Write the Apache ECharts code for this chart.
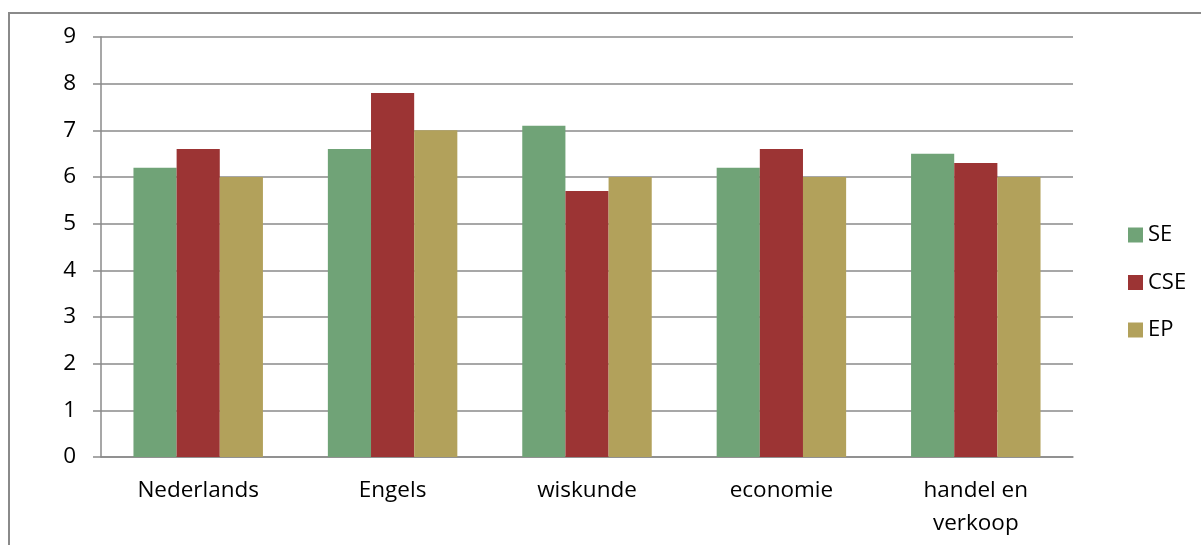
<!DOCTYPE html>
<html>
<head>
<meta charset="utf-8">
<script src="https://cdn.jsdelivr.net/npm/echarts@6/dist/echarts.min.js"></script>
<style>html,body{margin:0;padding:0;background:#fff}#c{width:1201px;height:545px}</style>
</head>
<body>
<div id="c"></div>
<script>
const categories = ['Nederlands', 'Engels', 'wiskunde', 'economie', 'handel en\nverkoop'];
const seValues = [6.2, 6.6, 7.1, 6.2, 6.5];
const cseValues = [6.6, 7.8, 5.7, 6.6, 6.3];
const epValues = [6.0, 7.0, 6.0, 6.0, 6.0];
const seriesNames = ['SE', 'CSE', 'EP'];

const chart = echarts.init(document.getElementById('c'), null, {renderer: 'canvas'});
const font = '"Open Sans", sans-serif';
const gray = '#8a8a8a';
chart.setOption({
  animation: false,
  color: ['#70A377', '#9C3434', '#B2A15B'],
  graphic: [{
    type: 'rect', shape: {x: 9, y: 13, width: 1200, height: 540},
    style: {fill: 'none', stroke: gray, lineWidth: 2}, silent: true
  }],
  grid: {left: 101, right: 128, top: 37, bottom: 88},
  legend: {
    orient: 'vertical', left: 1123, top: 219,
    itemWidth: 15, itemHeight: 15, itemGap: 25.5,
    icon: 'rect',
    textStyle: {fontFamily: font, fontSize: 22, color: '#000', lineHeight: 20, padding: [0, 0, 0, 0]},
    data: seriesNames
  },
  xAxis: {
    type: 'category', data: categories,
    axisLine: {lineStyle: {color: gray, width: 1.5}},
    axisTick: {length: 8, lineStyle: {color: gray, width: 1.5}},
    axisLabel: {fontFamily: font, fontSize: 22.5, color: '#000', margin: 17, lineHeight: 33, interval: 0}
  },
  yAxis: {
    type: 'value', min: 0, max: 9, interval: 1,
    axisLine: {show: true, lineStyle: {color: gray, width: 1.5}},
    axisTick: {show: true, length: 8, lineStyle: {color: gray, width: 1.5}},
    splitLine: {lineStyle: {color: gray, width: 1.5}},
    axisLabel: {fontFamily: font, fontSize: 22.5, color: '#000', margin: 25}
  },
  series: [
    {name: seriesNames[0], type: 'bar', data: seValues, barGap: '0%', barCategoryGap: '33.4%'},
    {name: seriesNames[1], type: 'bar', data: cseValues, barGap: '0%', barCategoryGap: '33.4%'},
    {name: seriesNames[2], type: 'bar', data: epValues, barGap: '0%', barCategoryGap: '33.4%'}
  ]
});
</script>
</body>
</html>
